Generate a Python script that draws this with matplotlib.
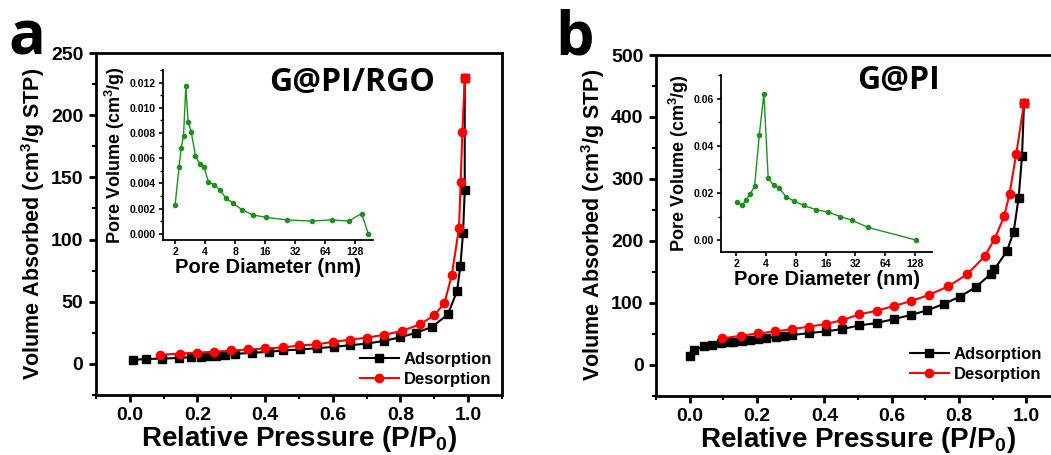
import numpy as np
import matplotlib
matplotlib.use('Agg')
import matplotlib.pyplot as plt
from matplotlib.ticker import MultipleLocator, FixedLocator, FormatStrFormatter, NullLocator

plt.rcParams['font.family'] = ['Liberation Sans', 'DejaVu Sans']
plt.rcParams['font.weight'] = 'bold'
plt.rcParams['axes.labelweight'] = 'bold'
plt.rcParams['mathtext.fontset'] = 'custom'
plt.rcParams['mathtext.rm'] = 'Liberation Sans:bold'
plt.rcParams['mathtext.bf'] = 'Liberation Sans:bold'

# panel a: G@PI/RGO isotherm
a_ads_p = [0.01, 0.048, 0.095, 0.146, 0.18, 0.21, 0.23, 0.256, 0.28, 0.31, 0.36, 0.41,
           0.454, 0.503, 0.553, 0.603, 0.652, 0.702, 0.752, 0.80, 0.846, 0.894, 0.94,
           0.967, 0.977, 0.985, 0.99, 0.99]
a_ads_v = [3.2, 4.0, 4.2, 4.8, 5.4, 5.9, 6.2, 6.7, 7.5, 8.0, 8.9, 9.7, 10.8, 11.6, 12.6,
           13.7, 15.0, 16.4, 18.5, 21.5, 25.0, 29.8, 39.8, 58.3, 78.5, 105.6, 139.5, 229.6]
a_des_p = [0.99, 0.983, 0.978, 0.973, 0.952, 0.93, 0.90, 0.859, 0.806, 0.752, 0.702,
           0.65, 0.60, 0.551, 0.501, 0.452, 0.40, 0.35, 0.30, 0.25, 0.20, 0.149, 0.089]
a_des_v = [229.6, 186.8, 146.5, 109.4, 71.8, 48.9, 39.2, 32.0, 26.6, 23.4, 21.2, 19.4,
           17.7, 15.6, 14.8, 13.2, 12.4, 11.6, 10.8, 9.7, 9.1, 8.3, 7.3]

# panel a inset: pore size distribution
a_pore_d = [2.0, 2.19, 2.30, 2.43, 2.56, 2.70, 2.9, 3.2, 3.54, 3.9, 4.32, 4.92, 5.6, 6.5,
            7.7, 9.4, 12.0, 16.3, 26.4, 47, 75, 110.6, 149, 174]
a_pore_v = [0.0023, 0.0053, 0.0068, 0.0078, 0.0117, 0.0089, 0.0081, 0.0062, 0.0055,
            0.0053, 0.0041, 0.0039, 0.0035, 0.0028, 0.0024, 0.0019, 0.0015, 0.0013,
            0.0011, 0.0010, 0.0011, 0.0010, 0.0016, 0.0]

# panel b: G@PI isotherm
b_ads_p = [0.002, 0.014, 0.041, 0.065, 0.092, 0.116, 0.129, 0.155, 0.178, 0.203, 0.228,
           0.255, 0.279, 0.304, 0.354, 0.404, 0.453, 0.504, 0.555, 0.606, 0.656, 0.705,
           0.754, 0.802, 0.849, 0.894, 0.905, 0.942, 0.962, 0.977, 0.987, 0.993]
b_ads_v = [14, 23.7, 29.6, 32.3, 34.4, 36, 37.1, 38.2, 39.8, 41.4, 43, 44.7, 46.3, 47.9,
           51.1, 53.8, 57.6, 63.5, 67.3, 73.7, 80.2, 87.7, 98, 109.8, 124.9, 146.4, 153.9,
           183.5, 213.7, 269.6, 336.4, 422.5]
b_des_p = [0.993, 0.970, 0.950, 0.934, 0.906, 0.876, 0.825, 0.768, 0.71, 0.657, 0.606,
           0.555, 0.504, 0.453, 0.404, 0.353, 0.304, 0.254, 0.203, 0.152, 0.096]
b_des_v = [422.5, 340.7, 276, 239.5, 203.4, 175, 146.4, 126.5, 112.5, 102.8, 94.7, 87.2,
           81.3, 72.1, 65.7, 61.4, 57.6, 53.8, 50.6, 46.8, 42.5]

# panel b inset
b_pore_d = [2.03, 2.27, 2.52, 2.77, 3.06, 3.41, 3.80, 4.2, 4.76, 5.42, 6.33, 7.6, 9.6,
            12.9, 17.0, 22.5, 29.2, 43, 132]
b_pore_v = [0.0163, 0.0147, 0.0171, 0.0197, 0.0228, 0.0444, 0.0621, 0.0262, 0.0233,
            0.0221, 0.0185, 0.0166, 0.0147, 0.0129, 0.0119, 0.0100, 0.0085, 0.0054, 0.0]

pore_ticks = [2, 4, 8, 16, 32, 64, 128]


def style_main(ax, ylim, ystep):
    ax.set_xlim(-0.1, 1.1)
    ax.set_ylim(*ylim)
    ax.xaxis.set_major_locator(MultipleLocator(0.2))
    ax.xaxis.set_minor_locator(MultipleLocator(0.1))
    ax.yaxis.set_major_locator(MultipleLocator(ystep))
    ax.yaxis.set_minor_locator(MultipleLocator(ystep / 2))
    ax.xaxis.set_major_formatter(FormatStrFormatter('%.1f'))
    for s in ax.spines.values():
        s.set_linewidth(2.0)
    ax.tick_params(which='major', direction='out', length=5, width=2, labelsize=14, pad=4)
    ax.tick_params(which='minor', direction='out', length=3, width=1.5)
    ax.tick_params(top=False, right=False, which='both')
    for lbl in ax.get_xticklabels() + ax.get_yticklabels():
        lbl.set_fontweight('bold')
    ax.set_xlabel('Relative Pressure (P/P$_\\mathbf{0}$)', fontsize=20, labelpad=0)
    ax.set_ylabel('Volume Absorbed (cm$^\\mathbf{3}$/g STP)', fontsize=15.5, labelpad=3)


def style_inset(ax, xlim, ylim, ystep, fmt):
    ax.set_xscale('log', base=2)
    ax.set_xlim(*xlim)
    ax.set_ylim(*ylim)
    ax.xaxis.set_major_locator(FixedLocator(pore_ticks))
    ax.xaxis.set_minor_locator(NullLocator())
    ax.set_xticklabels([str(t) for t in pore_ticks])
    ax.yaxis.set_major_locator(MultipleLocator(ystep))
    ax.yaxis.set_minor_locator(MultipleLocator(ystep / 2))
    ax.yaxis.set_major_formatter(FormatStrFormatter(fmt))
    ax.spines['top'].set_visible(False)
    ax.spines['right'].set_visible(False)
    for s in ['left', 'bottom']:
        ax.spines[s].set_linewidth(1.3)
    ax.tick_params(which='major', direction='out', length=3, width=1.2, labelsize=7.5, pad=2)
    ax.tick_params(which='minor', direction='out', length=2, width=1.0)
    for lbl in ax.get_xticklabels() + ax.get_yticklabels():
        lbl.set_fontweight('bold')
    ax.set_xlabel('Pore Diameter (nm)', fontsize=14.5, labelpad=1)
    ax.set_ylabel('Pore Volume (cm$^\\mathbf{3}$/g)', fontsize=13, labelpad=2)
    ax.patch.set_alpha(0)


fig = plt.figure(figsize=(10.51, 4.55), dpi=100)

ax_a = fig.add_axes([0.0913, 0.1319, 0.3863, 0.7516])
ax_a.plot(a_ads_p, a_ads_v, '-s', color='black', ms=5.5, lw=1.5, label='Adsorption')
ax_a.plot(a_des_p, a_des_v, '-o', color='red', ms=6, lw=1.5, label='Desorption')
ax_a.plot(a_ads_p[-1:], a_ads_v[-1:], 's', color='red', ms=5.5)
style_main(ax_a, (-25, 250), 50)
ax_a.legend(loc='lower right', frameon=False, fontsize=12, handlelength=2.3,
            handletextpad=0.3, labelspacing=0.3, borderaxespad=0.2, bbox_to_anchor=(1.0, -0.005))
ax_a.text(0.63, 0.915, 'G@PI/RGO', transform=ax_a.transAxes, ha='center', va='center',
          fontsize=23, fontweight='bold', family=['Open Sans', 'DejaVu Sans'])

ins_a = fig.add_axes([0.1548, 0.4725, 0.2001, 0.3736])
ins_a.plot(a_pore_d, a_pore_v, '-o', color='#1f8f1f', ms=3, lw=1.0)
style_inset(ins_a, (1.5, 194), (-0.0005, 0.013), 0.002, '%.3f')

ax_b = fig.add_axes([0.6242, 0.1303, 0.3844, 0.7488])
ax_b.plot(b_ads_p, b_ads_v, '-s', color='black', ms=5.5, lw=1.5, label='Adsorption')
ax_b.plot(b_des_p, b_des_v, '-o', color='red', ms=6, lw=1.5, label='Desorption')
ax_b.plot(b_ads_p[-1:], b_ads_v[-1:], 's', color='red', ms=5.5)
style_main(ax_b, (-50, 500), 100)
ax_b.legend(loc='lower right', frameon=False, fontsize=12, handlelength=2.3,
            handletextpad=0.3, labelspacing=0.3, borderaxespad=0.2, bbox_to_anchor=(0.98, 0.01))
ax_b.text(0.6, 0.924, 'G@PI', transform=ax_b.transAxes, ha='center', va='center',
          fontsize=23, fontweight='bold', family=['Open Sans', 'DejaVu Sans'])

ins_b = fig.add_axes([0.686, 0.4462, 0.2008, 0.389])
ins_b.plot(b_pore_d, b_pore_v, '-o', color='#1f8f1f', ms=3, lw=1.0)
style_inset(ins_b, (1.4, 190), (-0.005, 0.07), 0.02, '%.2f')

fig.text(0.008, 0.88, 'a', fontsize=44, fontweight='bold', family=['Open Sans', 'DejaVu Sans'])
fig.text(0.528, 0.88, 'b', fontsize=44, fontweight='bold', family=['Open Sans', 'DejaVu Sans'])

fig.savefig('out.png', dpi=100)
